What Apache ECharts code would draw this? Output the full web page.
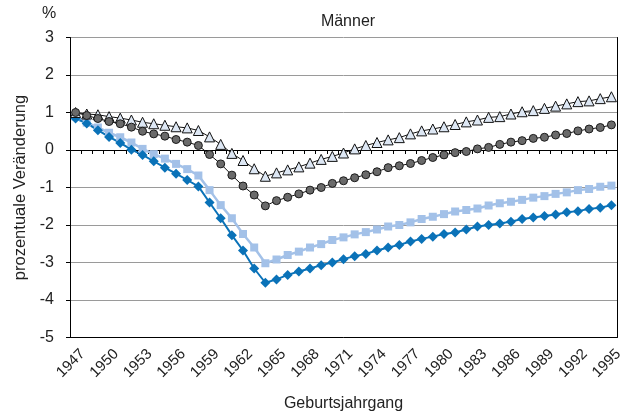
<!DOCTYPE html>
<html>
<head>
<meta charset="utf-8">
<script src="https://cdn.jsdelivr.net/npm/echarts@6/dist/echarts.min.js"></script>
<style>
  html, body { margin: 0; padding: 0; background: #fff; }
  #chart { width: 640px; height: 414px; }
</style>
</head>
<body>
<div id="chart"></div>
<script>
// Geburtsjahrgänge
var years = ['1947','1948','1949','1950','1951','1952','1953','1954','1955','1956',
  '1957','1958','1959','1960','1961','1962','1963','1964','1965','1966',
  '1967','1968','1969','1970','1971','1972','1973','1974','1975','1976',
  '1977','1978','1979','1980','1981','1982','1983','1984','1985','1986',
  '1987','1988','1989','1990','1991','1992','1993','1994','1995'];

// Dreiecke (hell, schwarzer Rand)
var triangles = [1.0, 0.96, 0.94, 0.89, 0.85, 0.8, 0.74, 0.7, 0.66, 0.62,
  0.59, 0.52, 0.35, 0.15, -0.09, -0.28, -0.5, -0.7, -0.61, -0.53,
  -0.45, -0.35, -0.25, -0.17, -0.08, 0.03, 0.12, 0.2, 0.27, 0.33,
  0.43, 0.51, 0.56, 0.62, 0.68, 0.75, 0.8, 0.87, 0.89, 0.96,
  1.02, 1.05, 1.11, 1.17, 1.23, 1.29, 1.31, 1.37, 1.42];

// Kreise (grau)
var circles = [1.0, 0.92, 0.84, 0.76, 0.7, 0.61, 0.5, 0.43, 0.37, 0.28,
  0.21, 0.12, -0.12, -0.37, -0.67, -0.96, -1.2, -1.49, -1.35, -1.26,
  -1.17, -1.07, -1.0, -0.89, -0.82, -0.74, -0.66, -0.58, -0.47, -0.42,
  -0.36, -0.28, -0.2, -0.13, -0.07, -0.04, 0.03, 0.07, 0.15, 0.21,
  0.25, 0.31, 0.34, 0.4, 0.44, 0.51, 0.56, 0.6, 0.67];

// Quadrate (hellblau)
var squares = [0.89, 0.73, 0.6, 0.46, 0.34, 0.2, 0.03, -0.11, -0.23, -0.37,
  -0.51, -0.68, -1.07, -1.47, -1.82, -2.24, -2.6, -3.02, -2.92, -2.8,
  -2.71, -2.6, -2.51, -2.4, -2.33, -2.25, -2.19, -2.12, -2.04, -2.0,
  -1.93, -1.84, -1.78, -1.71, -1.64, -1.6, -1.56, -1.48, -1.42, -1.38,
  -1.33, -1.27, -1.23, -1.17, -1.13, -1.07, -1.04, -0.98, -0.95];

// Rauten (blau)
var diamonds = [0.84, 0.71, 0.53, 0.35, 0.19, 0.01, -0.13, -0.3, -0.47, -0.63,
  -0.8, -0.97, -1.4, -1.82, -2.27, -2.68, -3.16, -3.54, -3.45, -3.33,
  -3.24, -3.16, -3.07, -3.0, -2.91, -2.83, -2.77, -2.68, -2.6, -2.53,
  -2.44, -2.37, -2.31, -2.24, -2.2, -2.12, -2.04, -2.0, -1.96, -1.91,
  -1.84, -1.8, -1.76, -1.72, -1.66, -1.63, -1.57, -1.54, -1.47];

var font = 'Liberation Sans, Arial, Helvetica, sans-serif';
var chart = echarts.init(document.getElementById('chart'));

chart.setOption({
  animation: false,
  textStyle: { fontFamily: font },
  title: {
    text: 'Männer',
    left: 343, top: 9, textAlign: 'center',
    textStyle: { fontSize: 16, fontWeight: 'normal', color: '#222', fontFamily: font }
  },
  graphic: [
    { type: 'text', left: 42, top: 6, style: { text: '%', fontSize: 16, fill: '#222', fontFamily: font } }
  ],
  grid: { left: 70, right: 23, top: 37.5, bottom: 76.5, containLabel: false, outerBoundsMode: 'none' },
  xAxis: [
    {
      // Achse bei y = 0 mit Teilstrichen
      type: 'category',
      data: years,
      boundaryGap: true,
      axisLine: { onZero: true, lineStyle: { color: '#000', width: 1.2 } },
      axisTick: { show: true, interval: 0, length: 4, lineStyle: { color: '#000' } },
      axisLabel: { show: false },
      splitLine: { show: false }
    },
    {
      // untere Achse mit Beschriftung
      type: 'category',
      data: years,
      position: 'bottom',
      boundaryGap: true,
      name: 'Geburtsjahrgang',
      nameLocation: 'middle',
      nameGap: 58,
      nameTextStyle: { fontSize: 16, color: '#222', fontFamily: font },
      axisLine: { onZero: false, lineStyle: { color: '#000' } },
      axisTick: { show: false },
      axisLabel: {
        interval: 2, rotate: 45, margin: 7,
        verticalAlign: 'top', lineHeight: 20,
        fontSize: 15, color: '#222', fontFamily: font
      },
      splitLine: { show: false }
    }
  ],
  yAxis: [
    {
      type: 'value',
      min: -5, max: 3, interval: 1,
      name: 'prozentuale Veränderung',
      nameLocation: 'middle',
      nameGap: 34,
      nameTextStyle: { fontSize: 16.5, color: '#222', fontFamily: font },
      axisLine: { show: true, lineStyle: { color: '#000' } },
      axisTick: { show: true, length: 4, lineStyle: { color: '#000' } },
      axisLabel: { fontSize: 16, color: '#222', margin: 16, fontFamily: font },
      splitLine: { show: true, lineStyle: { color: '#9a9a9a', width: 1 } }
    },
    {
      type: 'value',
      position: 'right',
      min: -5, max: 3, interval: 1,
      axisLine: { show: true, lineStyle: { color: '#000' } },
      axisTick: { show: false },
      axisLabel: { show: false },
      splitLine: { show: false }
    }
  ],
  series: [
    {
      name: 'Quadrate', type: 'line', data: squares,
      showAllSymbol: true,
      symbol: 'rect', symbolSize: 8,
      lineStyle: { color: '#a3c1e8', width: 2.5 },
      itemStyle: { color: '#a3c1e8', borderWidth: 0 }
    },
    {
      name: 'Rauten', type: 'line', data: diamonds,
      showAllSymbol: true,
      symbol: 'diamond', symbolSize: 10,
      lineStyle: { color: '#0a72b8', width: 2 },
      itemStyle: { color: '#0a72b8', borderWidth: 0 }
    },
    {
      name: 'Dreiecke', type: 'line', data: triangles,
      showAllSymbol: true,
      symbol: 'triangle', symbolSize: 10,
      lineStyle: { color: '#111', width: 1 },
      itemStyle: { color: '#dde7f4', borderColor: '#111', borderWidth: 1 }
    },
    {
      name: 'Kreise', type: 'line', data: circles,
      showAllSymbol: true,
      symbol: 'circle', symbolSize: 8,
      lineStyle: { color: '#111', width: 1 },
      itemStyle: { color: '#6a6a6a', borderColor: '#1a1a1a', borderWidth: 1 }
    }
  ]
});
</script>
</body>
</html>
